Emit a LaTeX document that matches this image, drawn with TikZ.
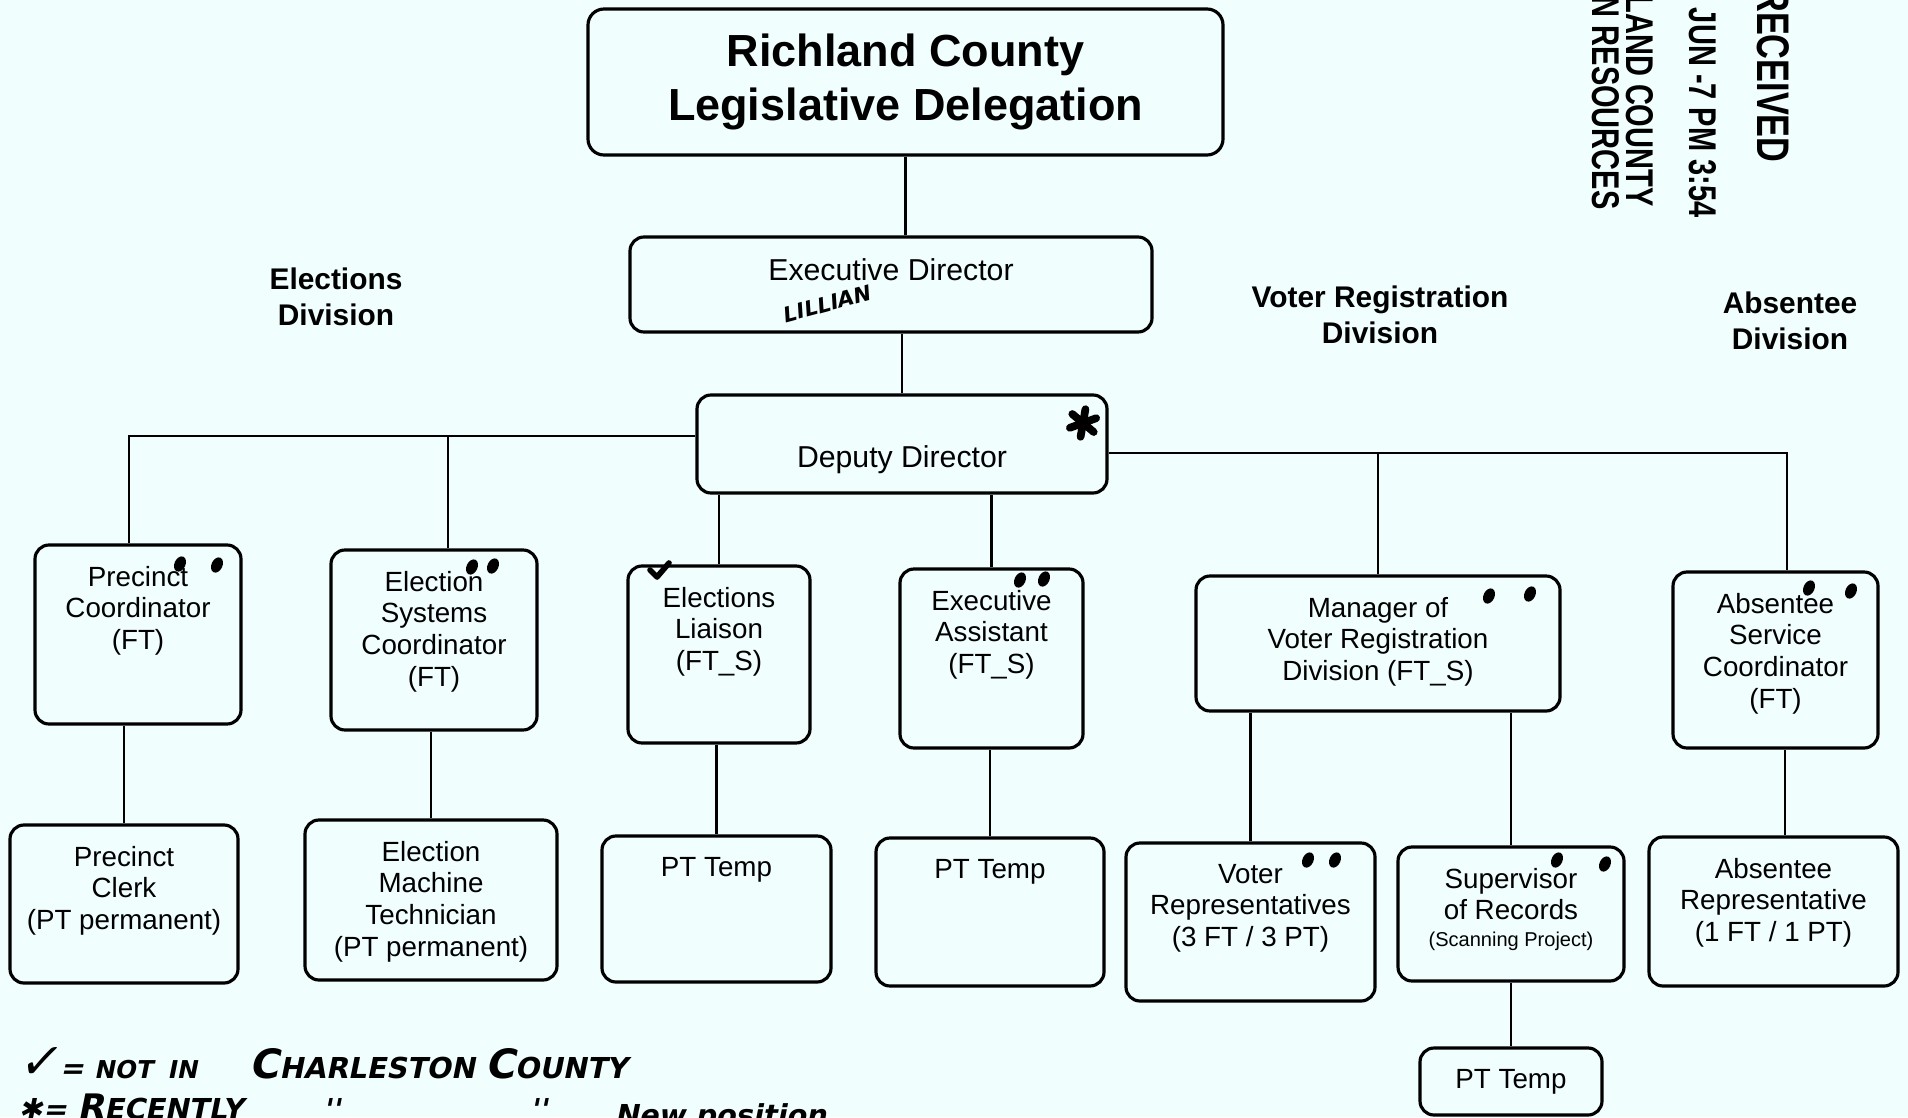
\documentclass[tikz,border=0pt]{standalone}
\usepackage{fontspec}
\setmainfont{Liberation Sans}
\newfontfamily\handfont[FakeSlant=0.2]{DejaVu Sans}
\definecolor{scanbg}{RGB}{240,254,254}

\tikzset{
  box/.style={draw, line width=0.9pt, rounded corners=0.14cm, inner sep=0pt},
  link/.style={line width=0.7pt},
  boxtxt/.style={anchor=north, align=center, inner sep=0pt, yshift=-0.22cm, font=\fontsize{7.9}{9}\selectfont},
  midtxt/.style={inner sep=0pt, font=\fontsize{8.6}{10}\selectfont},
  divtxt/.style={align=center, inner sep=0pt, font=\fontsize{8.5}{10.3}\selectfont\bfseries},
  stamptxt/.style={anchor=east, rotate=-90, xscale=0.75, inner sep=0pt, font=\fontsize{11}{12}\selectfont\bfseries},
  handtxt/.style={inner sep=0pt, anchor=base west, font=\handfont\bfseries\fontsize{8.2}{10}\selectfont},
}

\begin{document}
\begin{tikzpicture}
  \fill[scanbg] (0,0) rectangle (19.08,-11.17);
  \useasboundingbox (0,0) rectangle (19.08,-11.17);

  % delegation and directors
  \node[box, rounded corners=0.16cm, minimum width=6.35cm, minimum height=1.46cm, align=center,
        font=\fontsize{12.8}{15.6}\selectfont\bfseries] (deleg) at (9.055,-0.82) {Richland County\\Legislative Delegation};
  \node[box, minimum width=5.22cm, minimum height=0.95cm,
        label={[midtxt, yshift=0.145cm]center:Executive Director}] (exec) at (8.91,-2.845) {};
  \node[box, minimum width=4.10cm, minimum height=0.98cm,
        label={[midtxt, yshift=-0.16cm]center:Deputy Director}] (deputy) at (9.02,-4.44) {};

  % division headings
  \node[divtxt] (elecdiv) at (3.36,-2.97) {Elections\\Division};
  \node[divtxt] (regdiv) at (13.80,-3.15) {Voter Registration\\Division};
  \node[divtxt] (absdiv) at (17.90,-3.21) {Absentee\\Division};

  % second row
  \node[box, minimum width=2.06cm, minimum height=1.79cm,
        label={[boxtxt]north:{Precinct\\Coordinator\\(FT)}}] (pcoord) at (1.38,-6.345) {};
  \node[box, minimum width=2.06cm, minimum height=1.80cm,
        label={[boxtxt]north:{Election\\Systems\\Coordinator\\(FT)}}] (esys) at (4.34,-6.40) {};
  \node[box, minimum width=1.82cm, minimum height=1.77cm,
        label={[boxtxt]north:{Elections\\Liaison\\(FT\_S)}}] (liaison) at (7.19,-6.545) {};
  \node[box, minimum width=1.83cm, minimum height=1.79cm,
        label={[boxtxt]north:{Executive\\Assistant\\(FT\_S)}}] (assist) at (9.915,-6.585) {};
  \node[box, minimum width=3.64cm, minimum height=1.35cm,
        label={[boxtxt]north:{Manager of\\Voter Registration\\Division (FT\_S)}}] (mgr) at (13.78,-6.435) {};
  \node[box, minimum width=2.05cm, minimum height=1.76cm,
        label={[boxtxt]north:{Absentee\\Service\\Coordinator\\(FT)}}] (abscoord) at (17.755,-6.60) {};

  % third row
  \node[box, minimum width=2.28cm, minimum height=1.58cm,
        label={[boxtxt]north:{Precinct\\Clerk\\(PT permanent)}}] (pclerk) at (1.24,-9.04) {};
  \node[box, minimum width=2.52cm, minimum height=1.60cm,
        label={[boxtxt]north:{Election\\Machine\\Technician\\(PT permanent)}}] (emtech) at (4.31,-9.00) {};
  \node[box, minimum width=2.29cm, minimum height=1.46cm,
        label={[boxtxt]north:PT Temp}] (temp1) at (7.165,-9.09) {};
  \node[box, minimum width=2.28cm, minimum height=1.48cm,
        label={[boxtxt]north:PT Temp}] (temp2) at (9.90,-9.12) {};
  \node[box, minimum width=2.49cm, minimum height=1.58cm,
        label={[boxtxt]north:{Voter\\Representatives\\(3 FT / 3 PT)}}] (vreps) at (12.505,-9.22) {};
  \node[box, minimum width=2.26cm, minimum height=1.34cm,
        label={[boxtxt]north:{Supervisor\\of Records\\[-1.5pt]{\fontsize{5.7}{7}\selectfont(Scanning Project)}}}] (superv) at (15.11,-9.14) {};
  \node[box, minimum width=2.49cm, minimum height=1.49cm,
        label={[boxtxt]north:{Absentee\\Representative\\(1 FT / 1 PT)}}] (absrep) at (17.735,-9.115) {};
  \node[box, minimum width=1.82cm, minimum height=0.67cm,
        label={[boxtxt]north:PT Temp}] (temp3) at (15.11,-10.815) {};

  % connectors
  \coordinate (lbus) at ([yshift=0.08cm]deputy.west);
  \coordinate (rbus) at ([yshift=-0.09cm]deputy.east);
  \coordinate (pcoordtop) at ([xshift=-0.09cm]pcoord.north);
  \coordinate (esystop) at ([xshift=0.14cm]esys.north);
  \coordinate (abstop) at ([xshift=0.115cm]abscoord.north);
  \coordinate (absreptop) at ([xshift=0.115cm]absrep.north);
  \draw[link] (deleg.south) -- (deleg.south |- exec.north);
  \draw[link] (deputy.north) -- (deputy.north |- exec.south);
  \draw[link] (pcoordtop) |- (lbus);
  \draw[link] (esystop) -- (esystop |- lbus);
  \draw[link] (liaison.north) -- (liaison.north |- deputy.south);
  \draw[link] (assist.north) -- (assist.north |- deputy.south);
  \draw[link] (rbus) -| (abstop);
  \draw[link] (mgr.north) -- (mgr.north |- rbus);
  \draw[link] (pclerk.north) -- (pclerk.north |- pcoord.south);
  \draw[link] (emtech.north) -- (emtech.north |- esys.south);
  \draw[link] (temp1.north) -- (temp1.north |- liaison.south);
  \draw[link] (temp2.north) -- (temp2.north |- assist.south);
  \draw[link] (vreps.north) -- (vreps.north |- mgr.south);
  \draw[link] (superv.north) -- (superv.north |- mgr.south);
  \draw[link] (absreptop) -- (absreptop |- abscoord.south);
  \draw[link] (temp3.north) -- (temp3.north |- superv.south);

  % received stamp
  \node[stamptxt, font=\fontsize{13}{14}\selectfont\bfseries] (rcvd) at (17.73,-1.63) {RECEIVED};
  \node[stamptxt] (stampdate) at (17.03,-2.18) {JUN -7 PM 3:54};
  \node[stamptxt] (stampcty) at (16.40,-2.07) {RICHLAND COUNTY};
  \node[stamptxt] (stamphr) at (16.06,-2.10) {HUMAN RESOURCES};

  % pen marks
  \foreach \x/\y in {1.80/-5.64, 2.17/-5.65, 4.72/-5.67, 4.93/-5.66, 10.20/-5.80, 10.44/-5.79,
                     14.89/-5.96, 15.30/-5.94, 18.09/-5.88, 18.51/-5.91, 13.08/-8.60, 13.35/-8.60,
                     15.57/-8.60, 16.05/-8.64}
    \fill[rotate around={-25:(\x,\y)}] (\x,\y) ellipse [x radius=0.055, y radius=0.08];
  \draw[line width=1.6pt, line cap=round, line join=round] (6.50,-5.70) -- (6.57,-5.77) -- (6.69,-5.63);
  \foreach \a in {20,80,140}
    \draw[line width=2.2pt, line cap=round] (10.83,-4.23) ++(\a:0.14) -- ++(\a+180:0.28);
  \node[handtxt, anchor=center, rotate=15, font=\handfont\bfseries\fontsize{6}{7}\selectfont] (lillian) at (8.26,-3.04) {LILLIAN};

  % legend
  \node[handtxt] (legcheck) at (0.18,-10.78) {{\fontsize{14}{14}\selectfont ✓}= {\fontsize{7}{8}\selectfont NOT\hspace{0.15cm}IN}};
  \node[handtxt] (legcounty) at (2.49,-10.78) {{\fontsize{11.5}{12}\selectfont C}HARLESTON {\fontsize{11.5}{12}\selectfont C}OUNTY};
  \node[handtxt] (legstar) at (0.18,-11.19) {✱= {\fontsize{10}{12}\selectfont R}ECENTLY};
  \node[handtxt] (legditto1) at (3.22,-11.19) {''};
  \node[handtxt] (legditto2) at (5.29,-11.19) {''};
  \node[handtxt] (legnew) at (6.14,-11.25) {New position};
\end{tikzpicture}
\end{document}
